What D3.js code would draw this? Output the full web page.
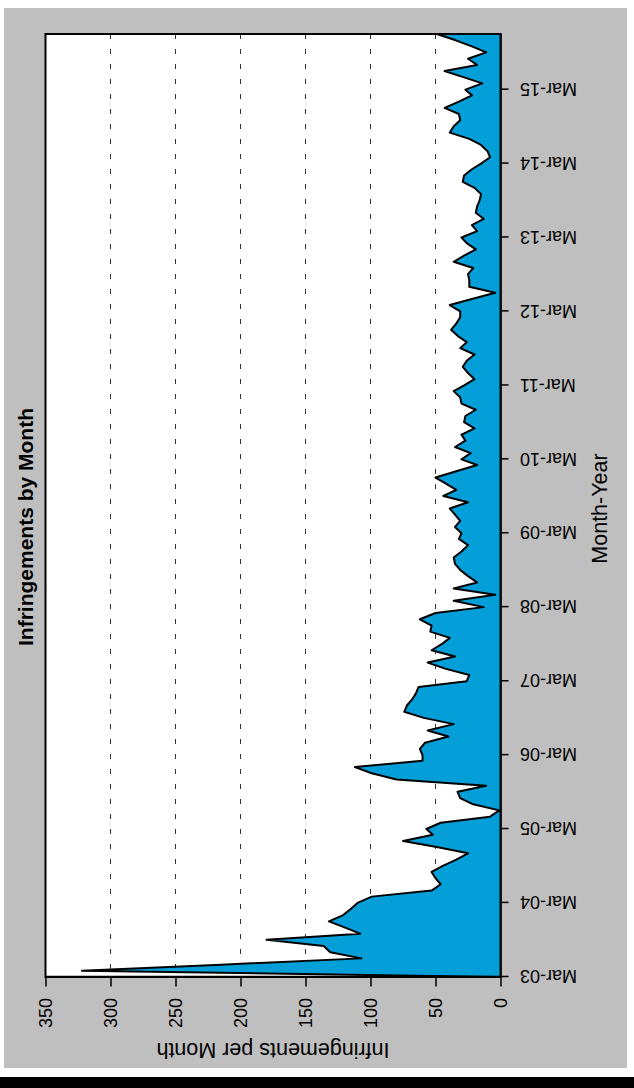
<!DOCTYPE html>
<html><head><meta charset="utf-8">
<script src="https://cdn.jsdelivr.net/npm/d3@7"></script>
<style>
html,body{margin:0;padding:0;background:#fff;}
svg{display:block;}
text{font-family:"Liberation Sans",Arial,Helvetica,sans-serif;fill:#000;}
</style>
</head><body>
<svg id="c" width="634" height="1088"></svg>
<script>
// ---- data ----
const startMonth = "Mar-03";
const values = [
  2, 322, 215, 107, 131, 136, 180, 108, 120, 132, 121, 115, 110, 99, 53, 46, 50, 53, 44, 34,
  25, 48, 75, 52, 57, 46, 8, 1, 21, 31, 33, 11, 80, 99, 112, 60, 60, 62, 58, 40,
  56, 36, 59, 74, 72, 68, 65, 63, 26, 24, 42, 56, 35, 53, 45, 39, 54, 53, 62, 50,
  13, 36, 4, 36, 18, 25, 31, 35, 36, 30, 25, 32, 30, 35, 31, 35, 39, 25, 44, 34,
  42, 50, 34, 18, 30, 23, 35, 27, 30, 20, 28, 27, 19, 30, 31, 36, 28, 20, 25, 29,
  26, 20, 31, 26, 33, 38, 34, 31, 31, 39, 22, 4, 24, 24, 25, 21, 36, 28, 19, 26,
  30, 18, 22, 13, 19, 18, 16, 15, 20, 29, 28, 22, 15, 8, 10, 15, 24, 39, 36, 31,
  32, 43, 32, 22, 27, 14, 28, 43, 18, 25, 11, 22, 35, 49
];
const monthTickLabels = ["Mar-03","Mar-04","Mar-05","Mar-06","Mar-07","Mar-08","Mar-09",
  "Mar-10","Mar-11","Mar-12","Mar-13","Mar-14","Mar-15"];
const valueTicks = [0, 50, 100, 150, 200, 250, 300, 350];
const gridValues = [50, 100, 150, 200, 250, 300];
const chartTitle = "Infringements by Month";
const xTitle = "Month-Year";
const yTitle = "Infringements per Month";

// ---- build ----
const parse = d3.timeParse("%b-%y");
const start = parse(startMonth);
const data = values.map((v, i) => ({date: d3.timeMonth.offset(start, i), value: v}));
const tickDates = monthTickLabels.map(parse);

const svg = d3.select("#c");
svg.append("rect").attr("x", 4).attr("y", 8).attr("width", 623).attr("height", 1060).attr("fill", "#bfbfbf");
svg.append("rect").attr("x", 0).attr("y", 1077).attr("width", 634).attr("height", 11).attr("fill", "#000");

// the chart is drawn in its own (unrotated) frame and turned a quarter turn
const g = svg.append("g").attr("transform", "translate(0,1088) rotate(-90)");

const x = d3.scaleTime().domain(d3.extent(data, d => d.date)).range([111, 1054]);
const y = d3.scaleLinear().domain([0, 350]).range([500.5, 45.5]);

g.append("rect").attr("x", 111).attr("y", 45.5).attr("width", 943).attr("height", 455).attr("fill", "#fff");

g.selectAll("line.grid").data(gridValues).join("line")
  .attr("class", "grid")
  .attr("x1", 1054).attr("x2", 111)
  .attr("y1", d => y(d)).attr("y2", d => y(d))
  .attr("stroke", "#333").attr("stroke-width", 1).attr("stroke-dasharray", "5,10");

g.append("path").datum(data)
  .attr("d", d3.area().x(d => x(d.date)).y0(y(0)).y1(d => y(d.value)))
  .attr("fill", "#049fd8");

g.append("path").datum(data)
  .attr("d", d3.line().x(d => x(d.date)).y(d => y(d.value)))
  .attr("fill", "none").attr("stroke", "#000").attr("stroke-width", 2)
  .attr("stroke-linejoin", "round");

g.append("rect").attr("x", 111).attr("y", 45.5).attr("width", 943).attr("height", 455)
  .attr("fill", "none").attr("stroke", "#000").attr("stroke-width", 2);

// time axis
const xAxis = g.append("g").attr("transform", "translate(0,500.5)")
  .call(d3.axisBottom(x).tickValues(tickDates).tickFormat(d3.timeFormat("%b-%y"))
        .tickSize(8).tickSizeOuter(0));
xAxis.select(".domain").attr("stroke", "#000").attr("stroke-width", 1.5);
xAxis.selectAll(".tick line").attr("stroke", "#000").attr("stroke-width", 1.5);
xAxis.selectAll(".tick text")
  .attr("transform", "rotate(-90)")
  .attr("x", -19.5).attr("y", 0).attr("dy", "0.35em")
  .style("text-anchor", "end")
  .style("font-size", "18px");

// value axis
const yAxis = g.append("g").attr("transform", "translate(111,0)")
  .call(d3.axisLeft(y).tickValues(valueTicks).tickFormat(d3.format("d"))
        .tickSize(9.5).tickPadding(11.5).tickSizeOuter(0));
yAxis.select(".domain").attr("stroke", "#000").attr("stroke-width", 1.5);
yAxis.selectAll(".tick line").attr("stroke", "#000").attr("stroke-width", 1.5);
yAxis.selectAll(".tick text").style("font-size", "18px");

// titles
g.append("text").attr("x", 561).attr("y", 33).attr("text-anchor", "middle")
  .style("font-size", "21px").style("font-weight", "bold").text(chartTitle);
g.append("text").attr("x", 579.5).attr("y", 606.5).attr("text-anchor", "middle")
  .style("font-size", "21.5px").text(xTitle);
g.append("text").attr("transform", "translate(45,273) rotate(-90)").attr("text-anchor", "middle")
  .style("font-size", "21.5px").text(yTitle);
</script>
</body></html>
